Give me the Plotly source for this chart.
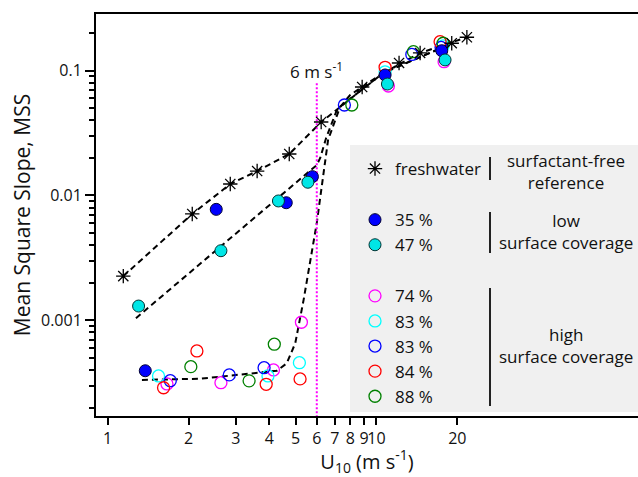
import plotly.graph_objects as go

# ---------------- data ----------------
fw_x = [1.144, 2.065, 2.86, 3.60, 4.74, 6.23, 8.85, 12.14, 14.54, 19.06, 21.7]
fw_y = [0.00226, 0.00711, 0.01236, 0.0157, 0.0215, 0.0388, 0.074, 0.1153, 0.1387, 0.166, 0.1854]

c35_x = [1.381, 2.536, 4.62, 5.78, 10.77, 17.5]
c35_y = [0.000394, 0.00774, 0.00875, 0.01416, 0.0924, 0.1446]

c47_x = [1.304, 2.64, 4.32, 5.56, 10.99, 18.0]
c47_y = [0.00130, 0.00361, 0.00904, 0.01277, 0.0782, 0.122]

c74_x = [1.663, 2.64, 4.14, 5.26, 11.08, 17.85]
c74_y = [0.000309, 0.000316, 0.000400, 0.000964, 0.0754, 0.118]

c83a_x = [1.547, 3.95, 5.17, 10.77, 17.7]
c83a_y = [0.000358, 0.000358, 0.000457, 0.098, 0.158]

c83b_x = [1.711, 2.835, 3.82, 7.60, 13.54, 17.4]
c83b_y = [0.000328, 0.000365, 0.000417, 0.0531, 0.135, 0.1535]

c84_x = [1.615, 2.149, 3.89, 5.20, 10.77, 17.25]
c84_y = [0.000288, 0.000568, 0.000307, 0.000339, 0.1065, 0.1707]

c88_x = [2.04, 3.36, 4.17, 8.10, 13.73, 17.7]
c88_y = [0.000425, 0.000327, 0.000643, 0.0531, 0.142, 0.166]

# fitted curves (dashed)
fit_fw_x = [1.144, 2.065, 2.86, 3.60, 4.74, 6.23, 7.65, 10.59, 14.54, 21.7]
fit_fw_y = [0.00226, 0.00711, 0.01236, 0.0157, 0.0215, 0.0388, 0.0551, 0.0958, 0.1387, 0.1854]

fit_low_x = [1.275, 6.00, 6.18, 6.50, 7.08, 7.98, 10.59, 18.5]
fit_low_y = [0.00104, 0.01754, 0.01998, 0.0289, 0.0467, 0.0638, 0.0958, 0.1607]

fit_high_x = [1.342, 2.21, 4.26, 4.64, 4.99, 5.36, 6.00, 6.61, 7.33, 10.59, 18.5]
fit_high_y = [0.000333, 0.00034, 0.000394, 0.000452, 0.000655, 0.001456, 0.00603, 0.0279, 0.0515, 0.0958, 0.1607]

x_ticks = [1, 2, 3, 4, 5, 6, 7, 8, 9, 10, 20]
x_ticktext = ["1", "2", "3", "4", "5", "6", "7", "8", "9", "10", "20"]
y_ticks = [0.001, 0.01, 0.1]
y_ticktext = ["0.001", "0.01", "0.1"]
u_marker = 6

FONT = "Open Sans"

fig = go.Figure()

dash_style = "6px,4px"
for fx, fy in [(fit_fw_x, fit_fw_y), (fit_low_x, fit_low_y), (fit_high_x, fit_high_y)]:
    fig.add_trace(go.Scatter(x=fx, y=fy, mode="lines", showlegend=False, hoverinfo="skip",
                             line=dict(color="black", width=2, dash=dash_style)))

# magenta 6 m/s line
fig.add_trace(go.Scatter(x=[u_marker, u_marker], y=[0.000167, 0.082], mode="lines", showlegend=False,
                         hoverinfo="skip", line=dict(color="#ff00ff", width=2, dash="2px,2px")))

open_series = [
    ("74 %", c74_x, c74_y, "#ff00ff", 4),
    ("83 %", c83a_x, c83a_y, "#00ffff", 5),
    ("83 %", c83b_x, c83b_y, "#0000ff", 6),
    ("84 %", c84_x, c84_y, "#ff0000", 7),
    ("88 %", c88_x, c88_y, "#008000", 8),
]
for name, xs, ys, col, rank in open_series:
    fig.add_trace(go.Scatter(x=xs, y=ys, mode="markers", name=name, legendgroup="c", legendrank=rank,
                             marker=dict(symbol="circle-open", size=12, color=col,
                                         line=dict(width=1.3, color=col))))

fig.add_trace(go.Scatter(x=c35_x, y=c35_y, mode="markers", name="35 %", legendgroup="b", legendrank=2,
                         marker=dict(symbol="circle", size=12, color="#0000ff",
                                     line=dict(width=1, color="#000033"))))
fig.add_trace(go.Scatter(x=c47_x, y=c47_y, mode="markers", name="47 %", legendgroup="b", legendrank=3,
                         marker=dict(symbol="circle", size=12, color="#00e6e6",
                                     line=dict(width=1, color="#003333"))))
fig.add_trace(go.Scatter(x=fw_x, y=fw_y, mode="markers", name="freshwater", legendgroup="a", legendrank=1,
                         marker=dict(symbol="asterisk-open", size=12, color="black",
                                     line=dict(width=1.3, color="black"))))

W, H = 638, 477
L, R, T, B = 96, 0, 14, 61
pw, ph = W - L - R, H - T - B


def px(xp):
    return (xp - L) / pw


def py(yp):
    return (H - B - yp) / ph


shapes = [
    dict(type="rect", xref="paper", yref="paper", x0=px(350), x1=1.0, y0=py(412), y1=py(145),
         fillcolor="#f0f0f0", line=dict(width=0), layer="below"),
    dict(type="line", xref="paper", yref="paper", x0=px(490), x1=px(490), y0=py(157), y1=py(180),
         line=dict(color="#222", width=2)),
    dict(type="line", xref="paper", yref="paper", x0=px(490), x1=px(490), y0=py(212), y1=py(253),
         line=dict(color="#222", width=2)),
    dict(type="line", xref="paper", yref="paper", x0=px(490), x1=px(490), y0=py(288), y1=py(406),
         line=dict(color="#222", width=2)),
]

ann_font = dict(family=FONT, size=17, color="#111")
annotations = [
    dict(xref="paper", yref="paper", x=px(566), y=py(171), text="surfactant-free<br>reference",
         showarrow=False, font=ann_font, align="center", xanchor="center", yanchor="middle"),
    dict(xref="paper", yref="paper", x=px(566), y=py(231), text="low<br>surface coverage",
         showarrow=False, font=ann_font, align="center", xanchor="center", yanchor="middle"),
    dict(xref="paper", yref="paper", x=px(566), y=py(345), text="high<br>surface coverage",
         showarrow=False, font=ann_font, align="center", xanchor="center", yanchor="middle"),
    dict(xref="x", yref="paper", x=0.778, y=py(70), text="6 m s<sup>-1</sup>",
         showarrow=False, font=ann_font, xanchor="center", yanchor="middle"),
]

minor_y = [k * d for d in (1e-4, 1e-3, 1e-2, 1e-1) for k in range(2, 10)]

fig.update_layout(
    width=W, height=H,
    margin=dict(l=L, r=R, t=T, b=B),
    paper_bgcolor="white", plot_bgcolor="white",
    font=dict(family=FONT, size=16, color="#111"),
    shapes=shapes, annotations=annotations,
    legend=dict(x=px(355), y=py(151), xanchor="left", yanchor="top",
                bgcolor="rgba(0,0,0,0)", traceorder="grouped", tracegroupgap=26,
                font=dict(family=FONT, size=17, color="#111")),
    xaxis=dict(type="log", range=[-0.0431, 1.973], showline=True, linecolor="black", linewidth=2,
               mirror=True, ticks="outside", ticklen=7, tickwidth=2, tickcolor="black", tickangle=0,
               tickmode="array", tickvals=x_ticks, ticktext=x_ticktext, showgrid=False, zeroline=False,
               tickfont=dict(family=FONT, size=16),
               title=dict(text="U<sub>10</sub> (m s<sup>-1</sup>)", font=dict(family=FONT, size=20), standoff=12)),
    yaxis=dict(type="log", range=[-3.767, -0.5457], showline=True, linecolor="black", linewidth=2,
               ticks="outside", ticklen=9, tickwidth=2, tickcolor="black",
               tickmode="array", tickvals=y_ticks, ticktext=y_ticktext, showgrid=False, zeroline=False,
               minor=dict(tickmode="array", tickvals=minor_y, ticks="outside", ticklen=5, tickwidth=1.5,
                          tickcolor="black", showgrid=False),
               tickfont=dict(family=FONT, size=16),
               title=dict(text="Mean Square Slope, MSS", font=dict(family=FONT, size=21), standoff=5)),
)

fig.write_html("out.html")
